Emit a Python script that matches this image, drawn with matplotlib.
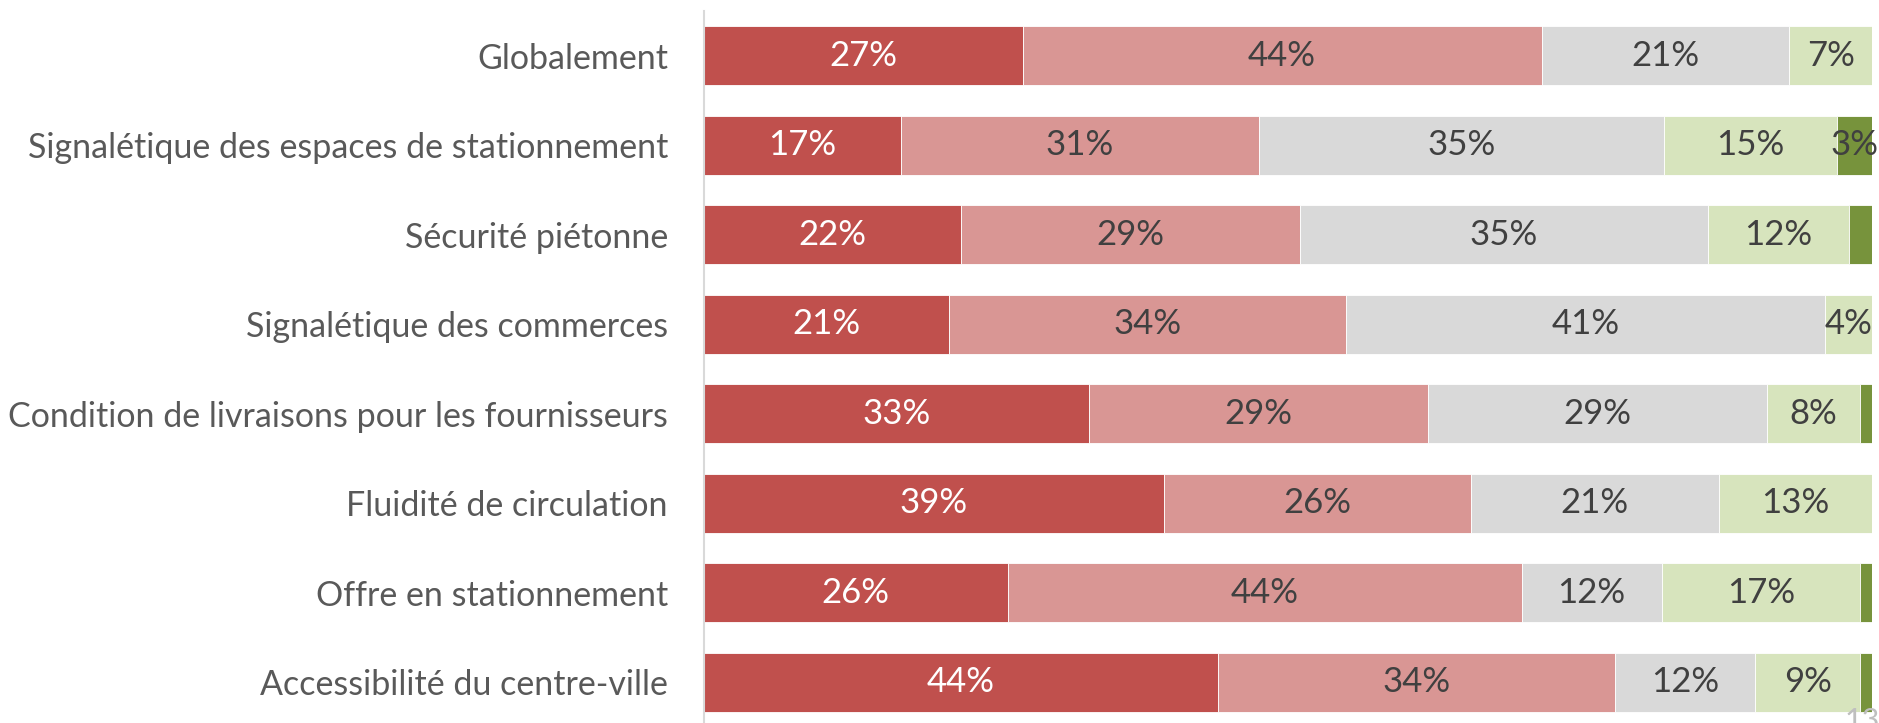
import matplotlib
matplotlib.use("Agg")
import matplotlib.pyplot as plt
import numpy as np

categories = [
    "Globalement",
    "Signalétique des espaces de stationnement",
    "Sécurité piétonne",
    "Signalétique des commerces",
    "Condition de livraisons pour les fournisseurs",
    "Fluidité de circulation",
    "Offre en stationnement",
    "Accessibilité du centre-ville",
]
tres_insatisfait = [27, 17, 22, 21, 33, 39, 26, 44]
insatisfait      = [44, 31, 29, 34, 29, 26, 44, 34]
neutre           = [21, 35, 35, 41, 29, 21, 12, 12]
satisfait        = [7, 15, 12, 4, 8, 13, 17, 9]
tres_satisfait   = [0, 3, 2, 0, 1, 0, 1, 1]

series = [tres_insatisfait, insatisfait, neutre, satisfait, tres_satisfait]
colors = ["#C0504D", "#D99694", "#D9D9D9", "#D7E4BD", "#77933C"]
label_colors = ["white", "#404040", "#404040", "#404040", "#404040"]

plt.rcParams['font.family'] = ['Lato', 'DejaVu Sans']

W, H = 1879, 723
fig = plt.figure(figsize=(W / 100, H / 100), dpi=100)
ax = fig.add_axes([704 / W, -4 / H, 1168 / W, 716 / H])

data = np.array(series, dtype=float)
totals = data.sum(axis=0)
norm = data / totals * 100

y = np.arange(len(categories))
left = np.zeros(len(categories))
for i, vals in enumerate(norm):
    ax.barh(y, vals, left=left, height=0.66, color=colors[i], edgecolor="white", linewidth=0.6)
    for j, v in enumerate(vals):
        raw = series[i][j]
        if raw >= 3:
            ax.text(left[j] + v / 2, y[j], f"{raw}%", ha="center", va="center",
                    fontsize=25, color=label_colors[i])
    left += vals

ax.set_xlim(0, 100)
ax.set_ylim(len(categories) - 0.5, -0.5)
ax.set_yticks(y)
ax.set_yticklabels(categories, fontsize=24.5, color="#595959")
ax.tick_params(axis="y", length=0, pad=26)
ax.set_xticks([])
for s in ["top", "right", "bottom"]:
    ax.spines[s].set_visible(False)
ax.spines["left"].set_color("#D9D9D9")
ax.spines["left"].set_linewidth(1.5)

fig.text(1845 / W, -12 / H, "13", fontsize=22, color="#BFBFBF", ha="left", va="bottom")

fig.savefig("out.png", dpi=100)
